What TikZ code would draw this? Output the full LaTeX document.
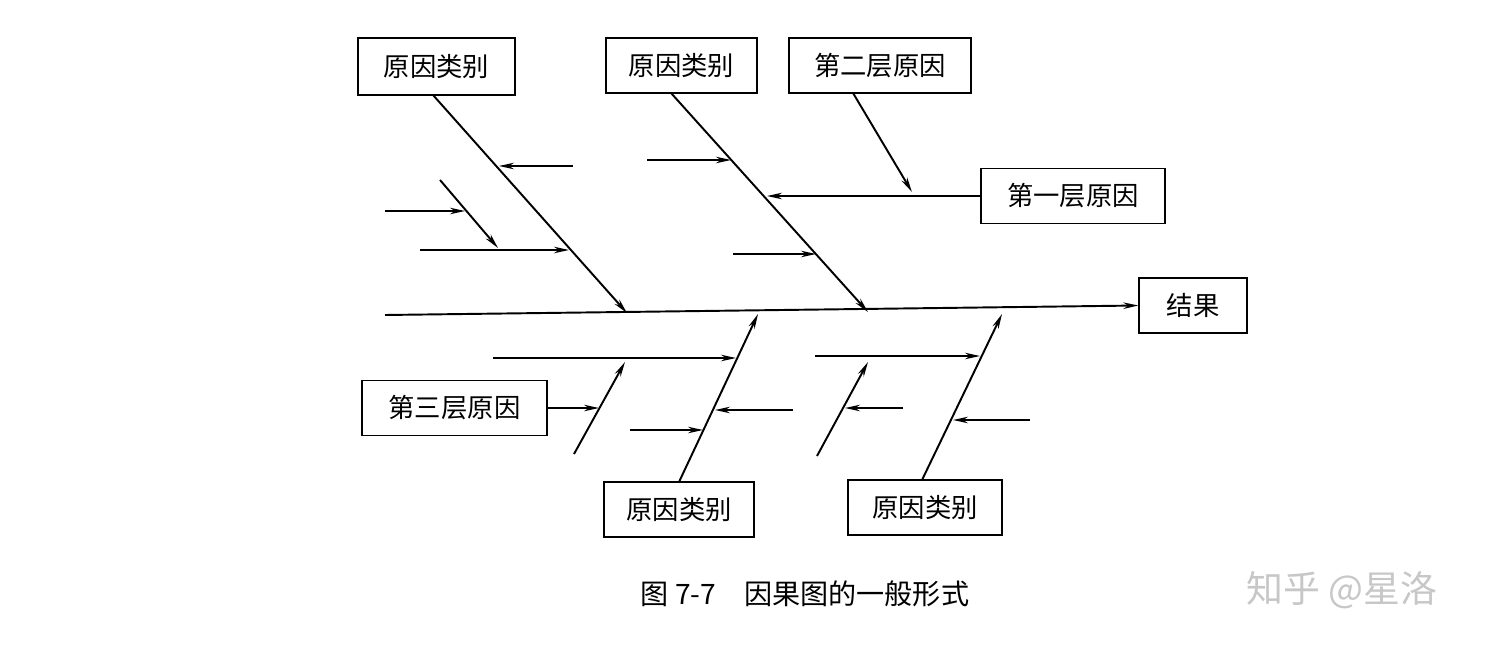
\documentclass[tikz,border=0pt]{standalone}
\usepackage{fontspec}
\setmainfont{Noto Sans CJK SC}
\usetikzlibrary{arrows.meta}
\begin{document}
\begin{tikzpicture}[x=0.02cm,y=-0.02cm,
  box/.style={draw,line width=0.8pt,inner sep=0pt,font=\fontsize{15}{17}\selectfont},
  ln/.style={line width=1.1pt},
  ar/.style={ln,-{Stealth[length=0.3cm,width=0.13cm]}}]
\useasboundingbox (0,0) rectangle (1498,649);
% boxes
\node[box,minimum width=3.14cm,minimum height=1.14cm] (b1) at (436.5,66.5) {原因类别};
\node[box,minimum width=3.02cm,minimum height=1.10cm] (b2) at (681.5,65.5) {原因类别};
\node[box,minimum width=3.64cm,minimum height=1.10cm] (b3) at (880,65.5) {第二层原因};
\node[box,minimum width=3.68cm,minimum height=1.10cm] (b4) at (1073,196) {第一层原因};
\node[box,minimum width=2.16cm,minimum height=1.10cm] (b5) at (1193,305.5) {结果};
\node[box,minimum width=3.70cm,minimum height=1.10cm] (b6) at (454.5,408) {第三层原因};
\node[box,minimum width=3.00cm,minimum height=1.10cm] (b7) at (679,509.5) {原因类别};
\node[box,minimum width=3.08cm,minimum height=1.10cm] (b8) at (925,507.5) {原因类别};
\node[font=\fontsize{16}{18}\selectfont] (cap) at (805,594) {图 7-7\quad 因果图的一般形式};
\node[font=\fontsize{21}{22}\selectfont,text=black!22] (wm) at (1342,590) {知乎 @星洛};
% coordinates
\coordinate (s0) at (385,315);
\coordinate (u1a) at (433,95);  \coordinate (u1b) at (627,313);
\coordinate (u2a) at (671,93);  \coordinate (u2b) at (868,312);
\coordinate (l1a) at (679,482); \coordinate (l1b) at (758,314);
\coordinate (l2a) at (922,480); \coordinate (l2b) at (1002,314);
% spine
\draw[ar] (s0) -- (b5.west);
% upper branch 1
\draw[ar] (u1a) -- (u1b);
\coordinate (p1) at (573,166); \coordinate (q1) at (499,166);
\draw[ar] (p1) -- (q1);
\coordinate (p2) at (420,250); \coordinate (q2) at (569,250);
\draw[ar] (p2) -- (q2);
\coordinate (sa) at (440,180); \coordinate (sb) at (498,248);
\draw[ar] (sa) -- (sb);
\coordinate (p3) at (385,211); \coordinate (q3) at (465,211);
\draw[ar] (p3) -- (q3);
% upper branch 2
\draw[ar] (u2a) -- (u2b);
\coordinate (p4) at (647,160); \coordinate (q4) at (731,160);
\draw[ar] (p4) -- (q4);
\coordinate (q5) at (767,196);
\draw[ar] (b4.west) -- (q5);
\coordinate (u3a) at (853,93); \coordinate (q6) at (912,192);
\draw[ar] (u3a) -- (q6);
\coordinate (p7) at (733,254); \coordinate (q7) at (816,254);
\draw[ar] (p7) -- (q7);
% lower branch 1
\draw[ar] (l1a) -- (l1b);
\coordinate (p8) at (493,358); \coordinate (q8) at (736,358);
\draw[ar] (p8) -- (q8);
\coordinate (p9) at (793,410); \coordinate (q9) at (715,410);
\draw[ar] (p9) -- (q9);
\coordinate (p10) at (630,430); \coordinate (q10) at (703,430);
\draw[ar] (p10) -- (q10);
\coordinate (sc) at (574,454); \coordinate (sd) at (625,362);
\draw[ar] (sc) -- (sd);
\coordinate (q11) at (599,408);
\draw[ar] (b6.east) -- (q11);
% lower branch 2
\draw[ar] (l2a) -- (l2b);
\coordinate (p12) at (815,356); \coordinate (q12) at (980,356);
\draw[ar] (p12) -- (q12);
\coordinate (p13) at (1030,420); \coordinate (q13) at (953,420);
\draw[ar] (p13) -- (q13);
\coordinate (se) at (817,456); \coordinate (sf) at (868,362);
\draw[ar] (se) -- (sf);
\coordinate (p14) at (903,408); \coordinate (q14) at (845,408);
\draw[ar] (p14) -- (q14);
\end{tikzpicture}
\end{document}
